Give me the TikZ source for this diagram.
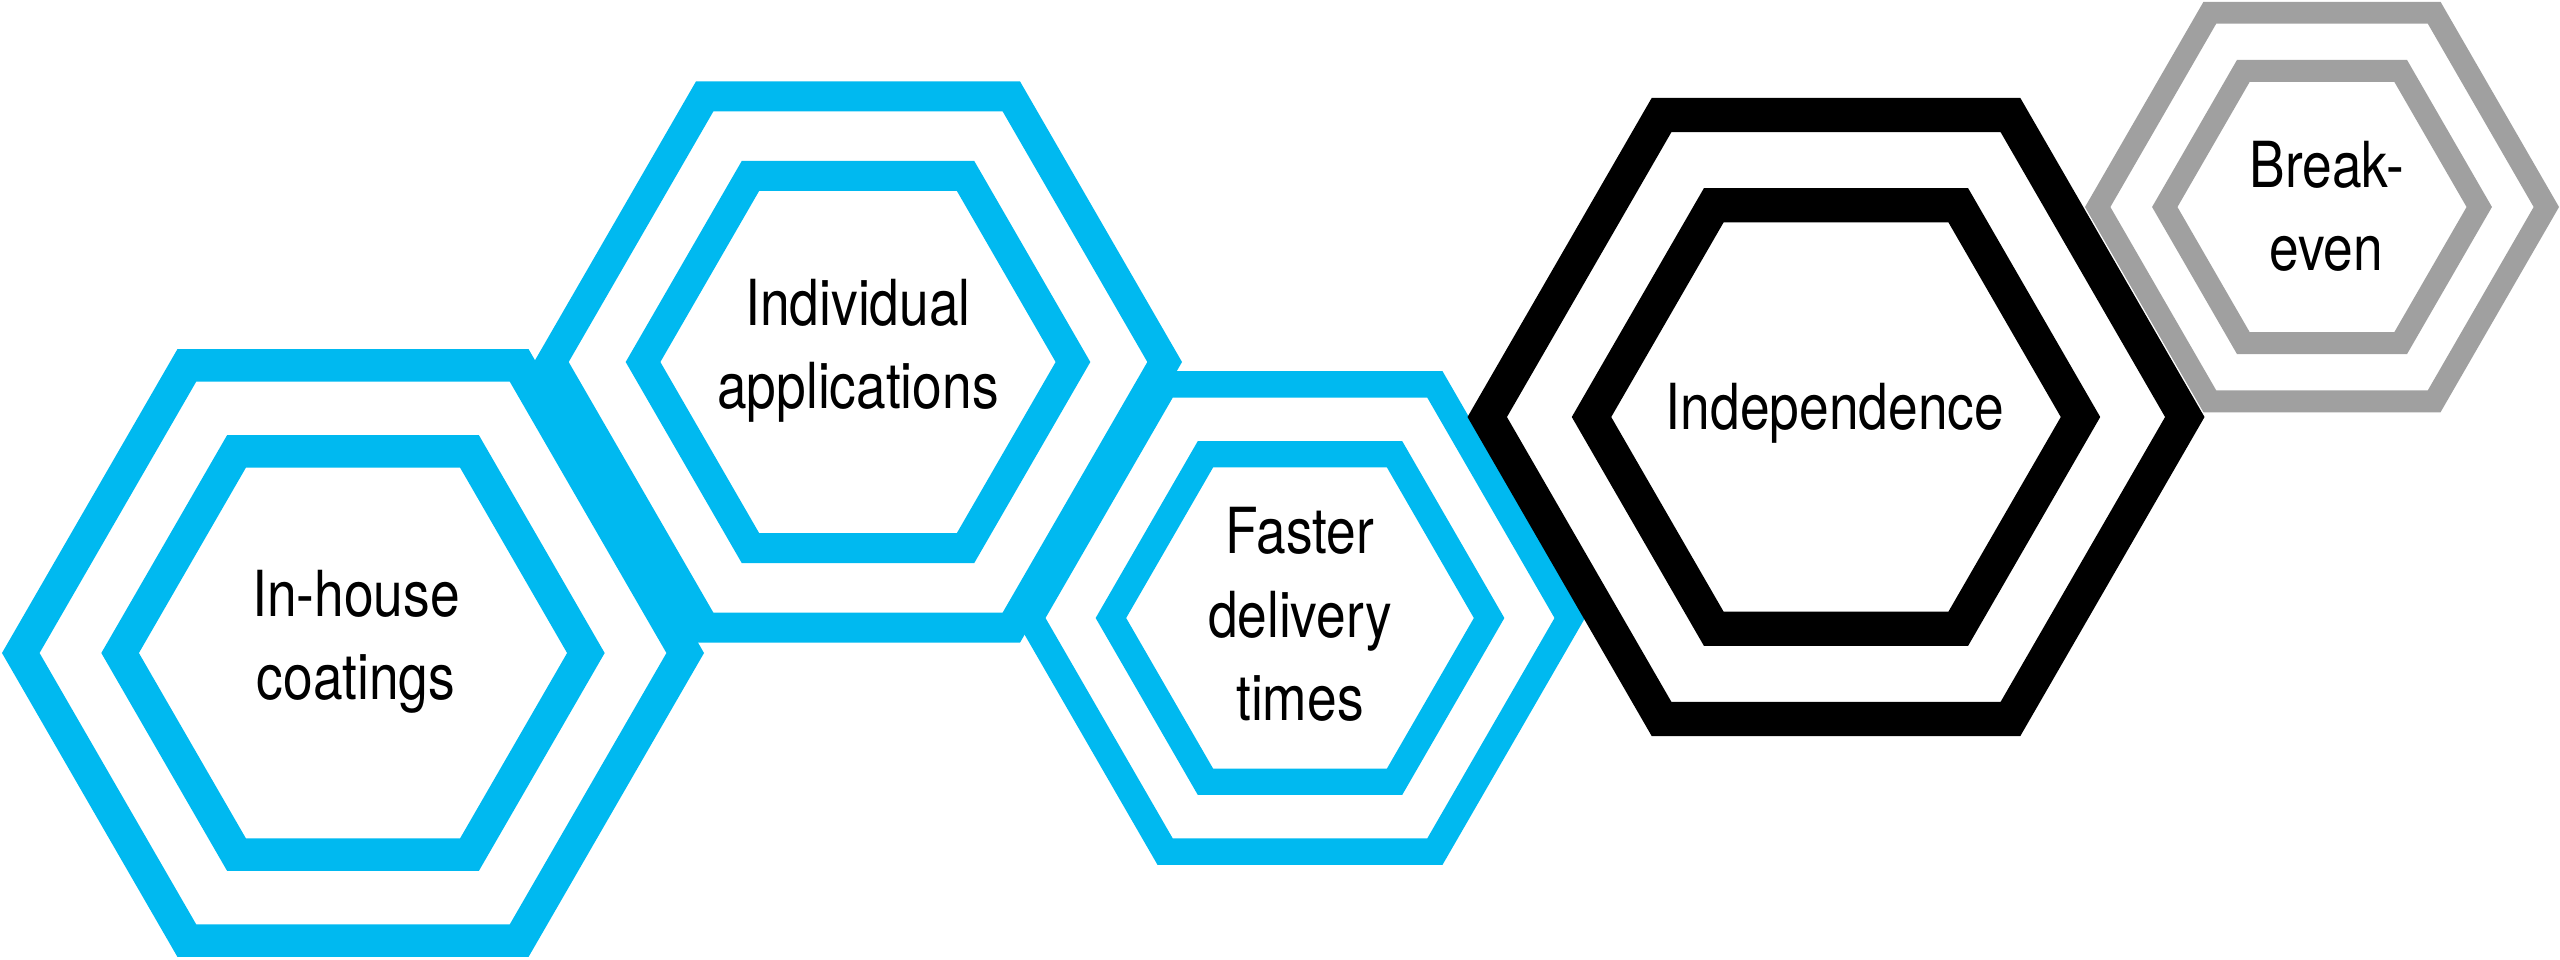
\documentclass[tikz,border=0pt]{standalone}
\usepackage{fontspec}
\setmainfont{TeX Gyre Heros}[FakeStretch=0.84]
\definecolor{hexblue}{RGB}{0,185,240}
\definecolor{hexgray}{RGB}{160,160,160}
\tikzset{
  lbl/.style={font=\fontsize{63.5}{83}\selectfont, anchor=base, inner sep=0pt, text=black},
  ringline/.style={line join=miter, miter limit=10}
}
\begin{document}
\begin{tikzpicture}[x=1pt,y=-1pt]
\fill[white] (0,0) rectangle (2560,959);
\useasboundingbox (0,0) rectangle (2560,959);
\foreach \cx/\cy/\R/\col in {353/653/351/hexblue, 858/362/324/hexblue, 1300/618/285/hexblue, 1836/417/368.5/black, 2322/207/237/hexgray}{
  \pgfmathsetmacro\lw{0.0927*\R}
  \pgfmathsetmacro\ra{0.9465*\R}
  \pgfmathsetmacro\rb{0.6635*\R}
  \draw[ringline, draw=\col, line width=\lw pt] (\cx,\cy) +(0:\ra) -- +(60:\ra) -- +(120:\ra) -- +(180:\ra) -- +(240:\ra) -- +(300:\ra) -- cycle;
  \draw[ringline, draw=\col, line width=\lw pt] (\cx,\cy) +(0:\rb) -- +(60:\rb) -- +(120:\rb) -- +(180:\rb) -- +(240:\rb) -- +(300:\rb) -- cycle;
}
\node[lbl] (t1a) at (356,616) {In-house};
\node[lbl] (t1b) at (356,699) {coatings};
\node[lbl] (t2a) at (858,325) {Individual};
\node[lbl] (t2b) at (858,408) {applications};
\node[lbl] (t3a) at (1300,553) {Faster};
\node[lbl] (t3b) at (1300,637) {delivery};
\node[lbl] (t3c) at (1300,720) {times};
\node[lbl] (t4) at (1835,429) {Independence};
\node[lbl] (t5a) at (2327,187) {Break-};
\node[lbl] (t5b) at (2326,270) {even};
\end{tikzpicture}
\end{document}
